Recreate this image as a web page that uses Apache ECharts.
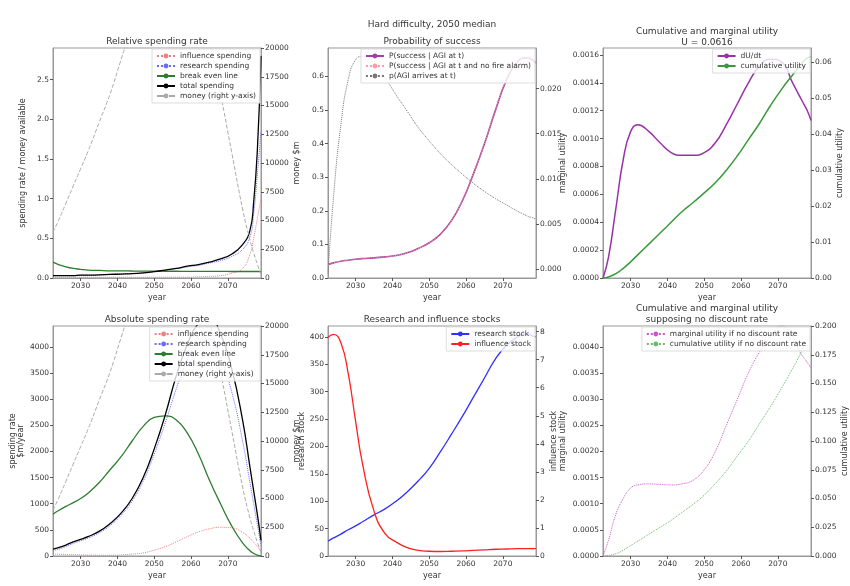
<!DOCTYPE html>
<html><head><meta charset="utf-8">
<script src="https://cdn.jsdelivr.net/npm/echarts@6/dist/echarts.min.js"></script>
<style>html,body{margin:0;background:#fff}#chart{width:850px;height:586px}</style>
</head><body><div id="chart"></div>
<script>
const years = [2022.5,2024,2026,2028,2030,2032,2035,2038,2041,2044,2047,2050,2053,2056,2059,2062,2065,2068,2071,2074,2076,2077,2078,2079];
const yearTicks = [2030,2040,2050,2060,2070];

const relInfluence = [0.01,0.01,0.01,0.01,0.01,0.01,0.01,0.01,0.01,0.01,0.01,0.01,0.01,0.01,0.01,0.015,0.02,0.03,0.06,0.12,0.3,0.5,0.75,1.0];
const relResearch = [0.03,0.03,0.03,0.03,0.035,0.035,0.04,0.045,0.05,0.055,0.065,0.08,0.1,0.12,0.14,0.16,0.19,0.22,0.27,0.36,0.52,0.8,1.3,1.85];
const relTotal = [0.03,0.03,0.03,0.03,0.035,0.035,0.04,0.045,0.05,0.055,0.065,0.08,0.1,0.12,0.15,0.17,0.2,0.24,0.3,0.42,0.6,0.95,1.6,2.8];
const relBreak = [0.2,0.17,0.14,0.12,0.11,0.1,0.095,0.09,0.09,0.088,0.087,0.086,0.085,0.085,0.084,0.084,0.083,0.083,0.082,0.082,0.082,0.082,0.082,0.082];
const money = [4000,5000,6500,8000,9500,11000,13500,16000,19000,22000,24500,26500,27500,27500,26500,24000,20500,16000,11000,6000,3300,2200,1200,300];

const absInfluence = [40,35,30,25,20,18,15,15,20,35,60,110,180,270,370,460,520,550,540,450,340,260,180,100];
const absResearch = [100,130,180,240,290,340,440,580,780,1050,1430,1950,2550,3200,3750,4100,4150,3800,3150,2200,1400,1000,600,200];
const absTotal = [130,160,210,270,320,370,470,620,820,1100,1500,2050,2700,3450,4050,4450,4550,4250,3600,2600,1700,1250,800,300];
const absBreak = [800,870,950,1020,1100,1200,1400,1650,1900,2200,2480,2650,2680,2600,2350,1950,1450,1000,580,250,100,50,15,0];

const pSuccess = [0.04,0.045,0.05,0.053,0.056,0.058,0.06,0.063,0.067,0.075,0.088,0.105,0.13,0.17,0.23,0.31,0.4,0.5,0.59,0.645,0.655,0.655,0.65,0.64];
const pNoFire = [0.04,0.045,0.05,0.053,0.056,0.058,0.06,0.063,0.067,0.075,0.088,0.105,0.13,0.17,0.23,0.31,0.4,0.5,0.59,0.645,0.655,0.655,0.65,0.64];
const pAGI = [-0.0005,0.008,0.016,0.021,0.0232,0.0236,0.0228,0.0212,0.0193,0.0175,0.0157,0.0142,0.0128,0.0116,0.0105,0.0095,0.0086,0.0078,0.0071,0.0064,0.006,0.0058,0.0057,0.0055];

const dUdt = [0,0.00015,0.0005,0.00085,0.00105,0.0011,0.00105,0.00097,0.0009,0.00088,0.00088,0.0009,0.00097,0.0011,0.00125,0.0014,0.00152,0.00157,0.00155,0.0014,0.0013,0.00125,0.0012,0.00113];
const cumU = [0,0.0003,0.0012,0.0027,0.0045,0.0065,0.0095,0.0125,0.0155,0.0185,0.021,0.0237,0.0265,0.03,0.034,0.0385,0.043,0.048,0.0525,0.0565,0.059,0.0603,0.0612,0.0616];

const researchStock = [27,33,40,48,55,63,75,86,100,117,137,160,190,222,255,290,325,360,385,400,405,405,402,400];
const influenceStock = [7.8,7.9,7.6,6.5,4.8,3.2,1.6,0.8,0.5,0.3,0.2,0.17,0.16,0.17,0.18,0.2,0.22,0.24,0.25,0.26,0.26,0.26,0.26,0.26];

const margNoDisc = [0,0.0003,0.0008,0.0011,0.0013,0.00136,0.00138,0.00137,0.00136,0.00138,0.00145,0.00165,0.002,0.0025,0.003,0.0035,0.0039,0.0042,0.0044,0.0042,0.0039,0.0038,0.0037,0.0036];
const cumNoDisc = [0,0.0005,0.002,0.005,0.009,0.013,0.019,0.025,0.031,0.038,0.045,0.053,0.063,0.074,0.087,0.1,0.115,0.13,0.146,0.163,0.175,0.182,0.188,0.192];

const chart = echarts.init(document.getElementById('chart'));
const txt = '#333';
const fontFamily = 'DejaVu Sans';

// grid boxes: [left, top, width, height]
const boxes = [
  [53, 48, 208, 230], [328, 48, 208, 230], [603, 48, 208, 230],
  [53, 326, 208, 230], [328, 326, 208, 230], [603, 326, 208, 230]
];
const grids = boxes.map(b => ({ left: b[0], top: b[1], width: b[2], height: b[3],
  show: true, borderColor: '#999', borderWidth: 1 }));

const xAxes = boxes.map((b, i) => ({
  type: 'value', gridIndex: i, min: 2022.5, max: 2079,
  name: 'year', nameLocation: 'middle', nameGap: 16,
  nameTextStyle: { fontSize: 8, color: txt },
  splitLine: { show: false },
  axisLine: { lineStyle: { color: '#999' } },
  axisTick: { customValues: yearTicks, length: 3, lineStyle: { color: '#555' } },
  axisLabel: { customValues: yearTicks, fontSize: 7.5, color: txt, margin: 4, formatter: v => String(v) }
}));

function yAx(i, pos, min, max, interval, name, digits, gap) {
  const ticks = [];
  for (let k = Math.ceil(min / interval - 1e-9); k * interval <= max + 1e-12; k++) ticks.push(+(k * interval).toFixed(8));
  return {
    type: 'value', gridIndex: i, position: pos, min, max,
    name, nameLocation: 'middle', nameGap: gap,
    nameTextStyle: { fontSize: 8, color: txt },
    splitLine: { show: false },
    axisLine: { show: true, lineStyle: { color: '#999' } },
    axisTick: { show: true, customValues: ticks, length: 3, lineStyle: { color: '#555' } },
    axisLabel: { customValues: ticks, fontSize: 7.5, color: txt, margin: 4, formatter: v => (+v).toFixed(digits) }
  };
}

const yAxes = [
  yAx(0, 'left', 0, 2.9, 0.5, 'spending rate / money available', 1, 26),
  yAx(0, 'right', 0, 20000, 2500, 'money $m', 0, 30),
  yAx(1, 'left', 0, 0.685, 0.1, '', 1, 26),
  yAx(1, 'right', -0.001, 0.0245, 0.005, '', 3, 30),
  yAx(2, 'left', 0, 0.00165, 0.0002, 'marginal utility', 4, 36),
  yAx(2, 'right', 0, 0.064, 0.01, 'cumulative utility', 2, 24),
  yAx(3, 'left', 0, 4400, 500, 'spending rate\n$m/year', 0, 28),
  yAx(3, 'right', 0, 20000, 2500, 'money $m', 0, 30),
  yAx(4, 'left', 0, 420, 50, 'research stock', 0, 22),
  yAx(4, 'right', 0, 8.2, 1, 'influence stock', 0, 14),
  yAx(5, 'left', 0, 0.0044, 0.0005, 'marginal utility', 4, 36),
  yAx(5, 'right', 0, 0.2, 0.025, 'cumulative utility', 3, 30)
];

const pts = arr => years.map((y, k) => [y, arr[k]]);
function line(name, arr, xi, yi, color, type, width) {
  return { name, type: 'line', xAxisIndex: xi, yAxisIndex: yi, data: pts(arr),
    smooth: true, symbol: 'none', clip: true,
    lineStyle: { color, type: type || 'solid', width: width || 1.3 },
    itemStyle: { color } };
}

const series = [
  line('influence spending', relInfluence, 0, 0, '#f08080', 'dotted', 1),
  line('research spending', relResearch, 0, 0, '#6a6aff', 'dotted', 1),
  line('break even line', relBreak, 0, 0, '#2e7d2e', 'solid', 1.3),
  line('total spending', relTotal, 0, 0, '#000', 'solid', 1.3),
  line('money (right y-axis)', money, 0, 1, '#aaa', 'dashed', 1),

  line('P(success | AGI at t)', pSuccess, 1, 2, '#a040a0', 'solid', 1.6),
  line('P(success | AGI at t and no fire alarm)', pNoFire, 1, 2, '#ff9aa8', 'dotted', 1),
  line('p(AGI arrives at t)', pAGI, 1, 3, '#777', 'dotted', 1),

  line('dU/dt', dUdt, 2, 4, '#9932a8', 'solid', 1.5),
  line('cumulative utility', cumU, 2, 5, '#3a9a3a', 'solid', 1.5),

  line('influence spending ', absInfluence, 3, 6, '#f08080', 'dotted', 1),
  line('research spending ', absResearch, 3, 6, '#6a6aff', 'dotted', 1),
  line('break even line ', absBreak, 3, 6, '#2e7d2e', 'solid', 1.3),
  line('total spending ', absTotal, 3, 6, '#000', 'solid', 1.3),
  line('money (right y-axis) ', money, 3, 7, '#aaa', 'dashed', 1),

  line('research stock', researchStock, 4, 8, '#3030ff', 'solid', 1.3),
  line('influence stock', influenceStock, 4, 9, '#ff2020', 'solid', 1.3),

  line('marginal utility if no discount rate', margNoDisc, 5, 10, '#cc55cc', 'dotted', 1),
  line('cumulative utility if no discount rate', cumNoDisc, 5, 11, '#66bb66', 'dotted', 1)
];

function leg(names, right, top) {
  return { data: names, right, top, orient: 'vertical', itemGap: 2, itemWidth: 18, itemHeight: 6,
    textStyle: { fontSize: 7.5, color: txt, fontFamily }, backgroundColor: 'rgba(255,255,255,0.8)',
    borderColor: '#ddd', borderWidth: 1, padding: [3, 4], selectedMode: false };
}

const titles = [
  { text: 'Hard difficulty, 2050 median', left: 432, top: 19 },
  { text: 'Relative spending rate', left: 157, top: 36 },
  { text: 'Probability of success', left: 432, top: 36 },
  { text: 'Cumulative and marginal utility\nU = 0.0616', left: 707, top: 26 },
  { text: 'Absolute spending rate', left: 157, top: 314 },
  { text: 'Research and influence stocks', left: 432, top: 314 },
  { text: 'Cumulative and marginal utility\nsupposing no discount rate', left: 707, top: 303 }
].map(t => ({ ...t, textAlign: 'center', padding: 0,
  textStyle: { fontSize: 9, fontWeight: 'normal', color: txt, fontFamily, lineHeight: 11 } }));

chart.setOption({
  backgroundColor: '#fff',
  textStyle: { fontFamily },
  animation: false,
  title: titles,
  grid: grids,
  xAxis: xAxes,
  yAxis: yAxes,
  legend: [
    leg(['influence spending', 'research spending', 'break even line', 'total spending', 'money (right y-axis)'], 850 - 261 + 1, 49),
    leg(['P(success | AGI at t)', 'P(success | AGI at t and no fire alarm)', 'p(AGI arrives at t)'], 850 - 536 + 1, 49),
    leg(['dU/dt', 'cumulative utility'], 850 - 811 + 1, 49),
    leg(['influence spending ', 'research spending ', 'break even line ', 'total spending ', 'money (right y-axis) '], 850 - 261 + 1, 327),
    leg(['research stock', 'influence stock'], 850 - 536 + 1, 327),
    leg(['marginal utility if no discount rate', 'cumulative utility if no discount rate'], 850 - 811 + 1, 327)
  ],
  series
});
</script>
</body></html>
